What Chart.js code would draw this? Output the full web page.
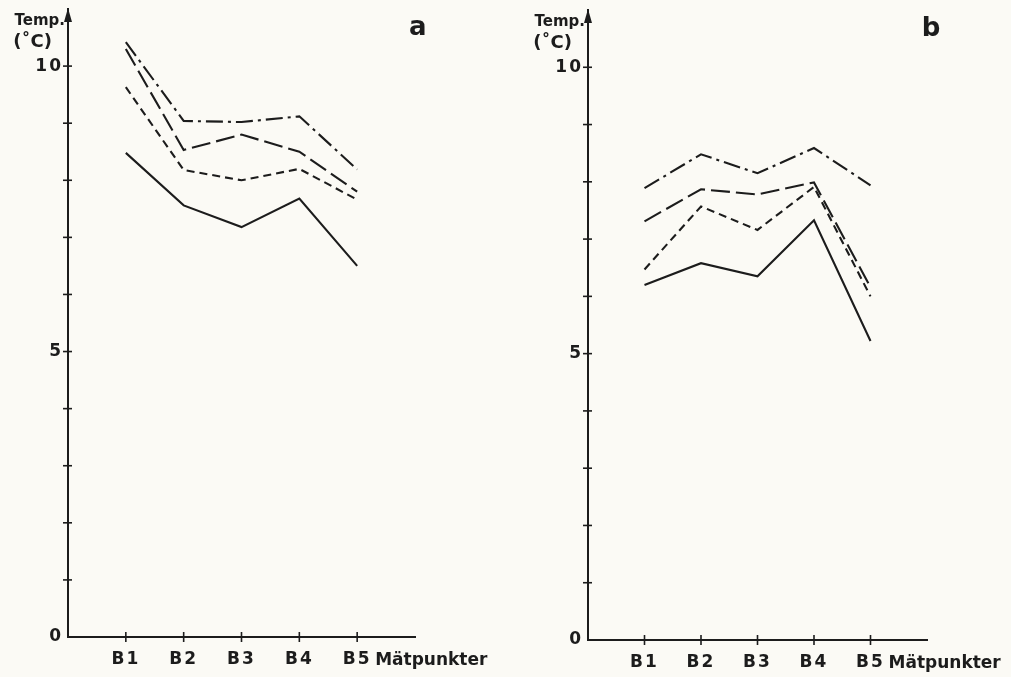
<!DOCTYPE html>
<html>
<head>
<meta charset="utf-8">
<script src="https://cdn.jsdelivr.net/npm/chart.js@4.4.1/dist/chart.umd.min.js"></script>
<style>
  html, body { margin: 0; padding: 0; background: #fbfaf5; }
  body { width: 1011px; height: 677px; position: relative; overflow: hidden; }
  .panel { position: absolute; top: 0; height: 677px; }
  #pa { left: 0; width: 505px; }
  #pb { left: 505px; width: 506px; }
</style>
</head>
<body>
<div class="panel" id="pa"><canvas id="ca"></canvas></div>
<div class="panel" id="pb"><canvas id="cb"></canvas></div>
<script>
// ---- data ----
const categories = ['B1', 'B2', 'B3', 'B4', 'B5'];
const yTickLabels = { 0: '0', 5: '5', 10: '10' };
const xAxisLabel = 'Mätpunkter';
const yAxisLabel1 = 'Temp.';
const yAxisLabel2 = '(˚C)';

// panel a
const aSolid     = [8.48, 7.56, 7.18, 7.68, 6.50];
const aShortDash = [9.63, 8.18, 8.00, 8.20, 7.66];
const aLongDash  = [10.30, 8.53, 8.80, 8.50, 7.80];
const aDashDot   = [10.42, 9.04, 9.02, 9.12, 8.19];

// panel b
const bSolid     = [6.20, 6.58, 6.35, 7.33, 5.22];
const bShortDash = [6.47, 7.57, 7.16, 7.91, 6.00];
const bLongDash  = [7.31, 7.87, 7.78, 7.99, 6.16];
const bDashDot   = [7.89, 8.48, 8.15, 8.59, 7.94];

const INK = '#1c1c1c';
const FONT = '"DejaVu Sans", sans-serif';

const styles = {
  solid: [],
  short: [8, 5],
  long: [19, 6],
  dashdot: [17, 5, 3, 5]
};

function ds(vals, dash) {
  return {
    data: vals.map((v, i) => ({ x: i, y: v })),
    borderColor: INK,
    borderWidth: 2.1,
    borderDash: dash,
    pointRadius: 0,
    tension: 0,
    fill: false
  };
}

function line(ctx, x1, y1, x2, y2) {
  ctx.beginPath(); ctx.moveTo(x1, y1); ctx.lineTo(x2, y2); ctx.stroke();
}

const decor = {
  id: 'decor',
  beforeDraw(chart) {
    chart.ctx.letterSpacing = '2px';
  },
  afterDraw(chart, args, o) {
    const { ctx, chartArea, scales: { x, y } } = chart;
    ctx.save();
    ctx.letterSpacing = '0px';
    ctx.strokeStyle = INK;
    ctx.fillStyle = INK;
    ctx.lineWidth = 1.6;
    // crossing tick marks on y
    for (let v = 1; v <= 10; v++) {
      const py = y.getPixelForValue(v);
      line(ctx, chartArea.left - 5, py, chartArea.left + 4, py);
    }
    // crossing tick marks on x
    for (let i = 0; i < categories.length; i++) {
      const px = x.getPixelForValue(i);
      line(ctx, px, chartArea.bottom - 5, px, chartArea.bottom + 5);
    }
    // arrow at top of y axis
    const ax = chartArea.left, ay = chartArea.top;
    ctx.beginPath();
    ctx.moveTo(ax, ay - 1);
    ctx.lineTo(ax - 4, ay + 13);
    ctx.lineTo(ax + 4, ay + 13);
    ctx.closePath();
    ctx.fill();
    // y axis label
    ctx.textBaseline = 'alphabetic';
    ctx.textAlign = 'right';
    ctx.font = 'bold 15px ' + FONT;
    ctx.fillText(yAxisLabel1, ax - 3, ay + 16);
    ctx.font = 'bold 18px ' + FONT;
    ctx.fillText(yAxisLabel2, ax - 16, ay + 38);
    // x axis label
    ctx.textAlign = 'left';
    ctx.font = 'bold 17px ' + FONT;
    ctx.fillText(xAxisLabel, x.getPixelForValue(categories.length - 1) + 18, chartArea.bottom + 28);
    // panel letter
    ctx.textAlign = 'center';
    ctx.font = 'bold 26px ' + FONT;
    ctx.fillText(o.letter, x.getPixelForValue(o.letterX), ay + 26);
    ctx.restore();
  }
};

function makeChart(id, series, cfg) {
  return new Chart(document.getElementById(id), {
    type: 'line',
    data: {
      datasets: [
        ds(series[0], styles.solid),
        ds(series[1], styles.short),
        ds(series[2], styles.long),
        ds(series[3], styles.dashdot)
      ]
    },
    options: {
      responsive: true,
      maintainAspectRatio: false,
      animation: false,
      layout: { padding: { top: cfg.top, right: cfg.right, left: 0, bottom: 0 } },
      plugins: {
        legend: { display: false },
        tooltip: { enabled: false },
        decor: { letter: cfg.letter, letterX: cfg.letterX }
      },
      scales: {
        x: {
          type: 'linear',
          min: -1,
          max: 5,
          afterBuildTicks: s => { s.ticks = categories.map((c, i) => ({ value: i })); },
          afterFit: s => { s.height = cfg.bottomH; s.paddingLeft = 0; s.paddingRight = 0; },
          ticks: {
            color: INK,
            font: { family: FONT, size: 17, weight: 'bold' },
            padding: 12,
            maxRotation: 0,
            autoSkip: false,
            callback: v => categories[v]
          },
          grid: { display: false, drawTicks: false },
          border: { display: true, color: INK, width: 2 }
        },
        y: {
          type: 'linear',
          min: 0,
          max: 11,
          afterBuildTicks: s => { s.ticks = Object.keys(yTickLabels).map(k => ({ value: +k })); },
          afterFit: s => { s.width = cfg.leftW; s.paddingTop = 0; s.paddingBottom = 0; },
          ticks: {
            color: INK,
            font: { family: FONT, size: 17, weight: 'bold' },
            padding: 5,
            autoSkip: false,
            callback: v => yTickLabels[v]
          },
          grid: { display: false, drawTicks: false },
          border: { display: true, color: INK, width: 2 }
        }
      }
    },
    plugins: [decor]
  });
}

makeChart('ca', [aSolid, aShortDash, aLongDash, aDashDot],
  { top: 9, right: 90, leftW: 68, bottomH: 40, letter: 'a', letterX: 5.05 });
makeChart('cb', [bSolid, bShortDash, bLongDash, bDashDot],
  { top: 10, right: 84, leftW: 83, bottomH: 37, letter: 'b', letterX: 5.07 });
</script>
</body>
</html>
